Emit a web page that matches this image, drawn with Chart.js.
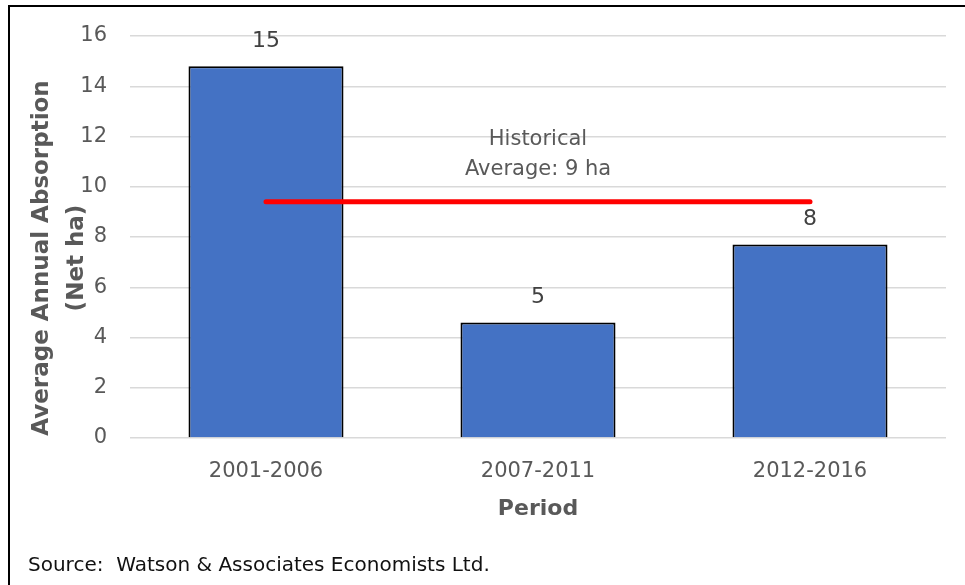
<!DOCTYPE html>
<html>
<head>
<meta charset="utf-8">
<script src="https://cdn.jsdelivr.net/npm/chart.js@4"></script>
<style>
  body { margin: 0; background: #fff; }
  #wrap { position: relative; width: 965px; height: 585px; overflow: hidden; }
  #frame { position: absolute; left: 8px; top: 5px; width: 1000px; height: 600px;
           border-top: 2px solid #000; border-left: 2px solid #000; }
  #chart { position: absolute; left: 0; top: 0; }
  #source { position: absolute; left: 28px; top: 552px; font: 20px 'DejaVu Sans', sans-serif; color: #111; white-space: pre; }
</style>
</head>
<body>
<div id="wrap">
  <div id="frame"></div>
  <canvas id="chart" width="965" height="585"></canvas>
  <div id="source">Source:  Watson &amp; Associates Economists Ltd.</div>
</div>
<script>
const periods = ['2001-2006', '2007-2011', '2012-2016'];
const absorption = [14.8, 4.6, 7.7];
const historicalAvg = [9.4, 9.4, 9.4];
const yTitle = ['Average Annual Absorption', '(Net ha)'];

Chart.defaults.font.family = "'DejaVu Sans', sans-serif";

// value above each bar
const barLabels = {
    id: 'barLabels',
    afterDatasetsDraw(chart) {
        const ctx = chart.ctx;
        const meta = chart.getDatasetMeta(0);
        ctx.save();
        ctx.font = '22px "DejaVu Sans", sans-serif';
        ctx.fillStyle = '#404040';
        ctx.textAlign = 'center';
        ctx.textBaseline = 'middle';
        meta.data.forEach((el, i) => {
            ctx.fillText(Math.round(absorption[i]), el.x, el.y - 25);
        });
        ctx.restore();
    }
};

// caption over the middle of the average line
const avgLabel = {
    id: 'avgLabel',
    afterDatasetsDraw(chart) {
        const ctx = chart.ctx;
        const el = chart.getDatasetMeta(1).data[1];
        ctx.save();
        ctx.font = '21px "DejaVu Sans", sans-serif';
        ctx.fillStyle = '#595959';
        ctx.textAlign = 'center';
        ctx.textBaseline = 'middle';
        ctx.fillText('Historical', el.x, el.y - 62);
        ctx.fillText('Average: ' + Math.round(historicalAvg[1]) + ' ha', el.x, el.y - 32);
        ctx.restore();
    }
};

// two-line rotated y axis title
const yAxisTitle = {
    id: 'yAxisTitle',
    afterDraw(chart) {
        const ctx = chart.ctx;
        const area = chart.chartArea;
        const cy = (area.top + area.bottom) / 2 + 21;
        ctx.save();
        ctx.font = 'bold 23px "DejaVu Sans", sans-serif';
        ctx.fillStyle = '#595959';
        ctx.textAlign = 'center';
        ctx.textBaseline = 'middle';
        [42, 77].forEach((x, i) => {
            ctx.save();
            ctx.translate(x, cy);
            ctx.rotate(-Math.PI / 2);
            ctx.fillText(yTitle[i], 0, 0);
            ctx.restore();
        });
        ctx.restore();
    }
};

const ctx = document.getElementById('chart').getContext('2d');
const absorptionChart = new Chart(ctx, {
    data: {
        labels: periods,
        datasets: [{
            type: 'bar',
            label: 'Average Annual Absorption',
            data: absorption,
            backgroundColor: '#4472C4',
            borderColor: '#000000',
            borderWidth: 2,
            barPercentage: 0.57,
            categoryPercentage: 1,
            order: 2
        }, {
            type: 'line',
            label: 'Historical Average',
            data: historicalAvg,
            borderColor: '#FF0000',
            borderWidth: 5,
            borderCapStyle: 'round',
            pointRadius: 0,
            fill: false,
            order: 1
        }]
    },
    options: {
        responsive: false,
        animation: false,
        layout: {
            padding: { top: 36, right: 19, bottom: 0, left: 0 }
        },
        plugins: {
            legend: { display: false },
            tooltip: { enabled: false }
        },
        scales: {
            x: {
                grid: { display: false },
                border: { display: false },
                ticks: {
                    color: '#595959',
                    font: { size: 21 },
                    padding: 13
                },
                title: {
                    display: true,
                    text: 'Period',
                    color: '#595959',
                    font: { size: 22, weight: 'bold' },
                    padding: { top: 0, bottom: 63 }
                },
                afterFit(scale) { scale.height = 147; }
            },
            y: {
                min: 0,
                max: 16,
                ticks: {
                    stepSize: 2,
                    color: '#595959',
                    font: { size: 21 },
                    padding: 23
                },
                grid: { color: '#d9d9d9', lineWidth: 1.5, drawTicks: false },
                border: { display: false },
                afterFit(scale) { scale.width = 130; }
            }
        }
    },
    plugins: [barLabels, avgLabel, yAxisTitle]
});
</script>
</body>
</html>
